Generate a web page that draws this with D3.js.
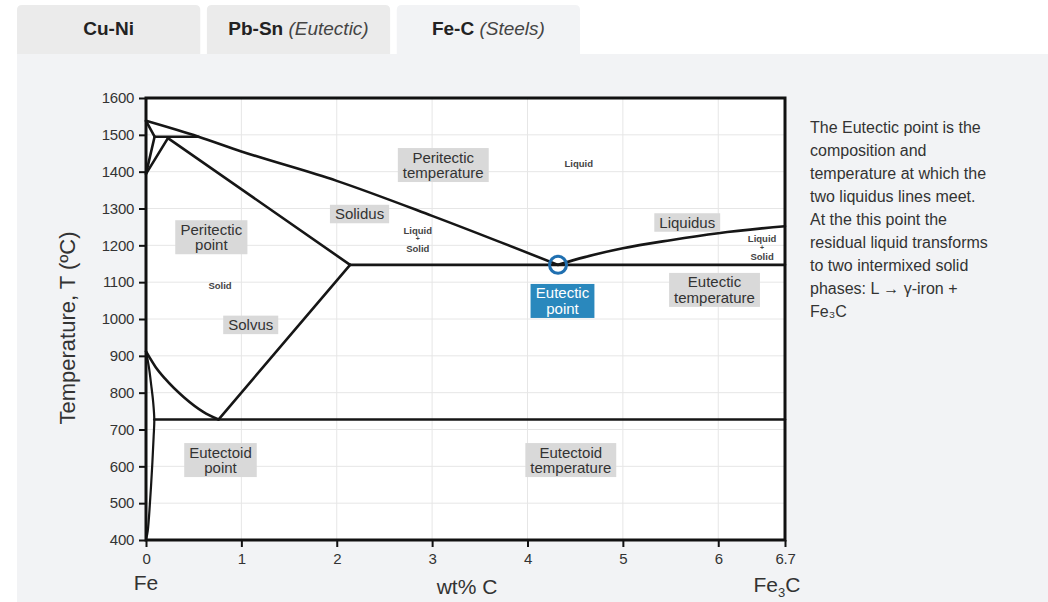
<!DOCTYPE html>
<html>
<head>
<meta charset="utf-8">
<script src="https://cdn.jsdelivr.net/npm/d3@7"></script>
<style>
  html, body { margin: 0; padding: 0; background: #ffffff; }
  svg { display: block; font-family: "Liberation Sans", Arial, sans-serif; }
</style>
</head>
<body>
<svg id="chart" width="1048" height="602"></svg>
<script>
// ---------- DATA ----------
const tabs = [
  { bold: "Cu-Ni", italic: "" },
  { bold: "Pb-Sn", italic: "(Eutectic)" },
  { bold: "Fe-C", italic: "(Steels)" }
];
const activeTab = 2;

const xTicks = [0, 1, 2, 3, 4, 5, 6, 6.7];
const yTicks = [400, 500, 600, 700, 800, 900, 1000, 1100, 1200, 1300, 1400, 1500, 1600];

// phase boundaries: [wt% C, temperature °C]
const liquidusLeft  = [[0, 1538], [0.55, 1495], [1, 1455], [2, 1375], [3, 1280], [4.32, 1147]];
const liquidusRight = [[4.32, 1147], [4.6, 1168], [5, 1192], [5.5, 1214], [6, 1233], [6.7, 1252]];
const deltaLiquid   = [[0, 1538], [0.09, 1495]];
const deltaSolvus   = [[0.09, 1495], [0, 1394]];
const gammaDelta    = [[0, 1394], [0.23, 1491]];
const peritectic    = [[0.09, 1495], [0.55, 1495]];
const solidus       = [[0.23, 1491], [2.14, 1147]];
const eutecticLine  = [[2.14, 1147], [6.7, 1147]];
const acmSolvus     = [[0.76, 727], [2.14, 1147]];
const a3Curve       = [[0, 912], [0.1, 870], [0.2, 838], [0.4, 787], [0.6, 748], [0.76, 727]];
const ferriteSolvus = [[0, 912], [0.03, 870], [0.055, 820], [0.075, 775], [0.087, 727],
                       [0.08, 680], [0.066, 606], [0.045, 515], [0.018, 424], [0, 400]];
const eutectoidLine = [[0.087, 727], [6.7, 727]];
const eutecticPoint = [4.32, 1147];

// boxed annotations [text lines, wt% C, T]
const boxLabels = [
  { lines: ["Peritectic", "temperature"], x: 3.117, t: 1418 },
  { lines: ["Solidus"], x: 2.239, t: 1285 },
  { lines: ["Peritectic", "point"], x: 0.685, t: 1222 },
  { lines: ["Solvus"], x: 1.098, t: 984 },
  { lines: ["Liquidus"], x: 5.675, t: 1262 },
  { lines: ["Eutectic", "temperature"], x: 5.961, t: 1079 },
  { lines: ["Eutectoid", "point"], x: 0.781, t: 617 },
  { lines: ["Eutectoid", "temperature"], x: 4.454, t: 617 }
];
const highlightLabel = { lines: ["Eutectic", "point"], x: 4.367, t: 1049 };

// small phase labels
const phaseLabels = [
  { lines: ["Liquid"], x: 4.537, t: 1423 },
  { lines: ["Solid"], x: 0.776, t: 1092 },
  { lines: ["Liquid", "+", "Solid"], x: 2.85, t: 1217 },
  { lines: ["Liquid", "+", "Solid"], x: 6.46, t: 1194 }
];

const infoLines = [
  "The Eutectic point is the",
  "composition and",
  "temperature at which the",
  "two liquidus lines meet.",
  "At the this point the",
  "residual liquid transforms",
  "to two intermixed solid",
  "phases: L \u2192 \u03b3-iron +",
  "Fe\u2083C"
];

// ---------- DRAW ----------
const svg = d3.select("#chart");
const panelColor = "#f2f3f5";
const tabColor = "#ebebeb";

// panel
svg.append("rect").attr("x", 17).attr("y", 54).attr("width", 1031).attr("height", 548)
  .attr("fill", panelColor);

// tabs
const tabX = d3.scaleBand().domain(d3.range(tabs.length)).range([17, 580]).paddingInner(0.035);
tabs.forEach((tb, i) => {
  const x0 = tabX(i), w = tabX.bandwidth(), y0 = 5, y1 = 54, r = 5;
  svg.append("path")
    .attr("d", `M${x0},${y1} L${x0},${y0 + r} Q${x0},${y0} ${x0 + r},${y0} L${x0 + w - r},${y0} Q${x0 + w},${y0} ${x0 + w},${y0 + r} L${x0 + w},${y1} Z`)
    .attr("fill", i === activeTab ? panelColor : tabColor);
  const t = svg.append("text").attr("x", x0 + w / 2).attr("y", 35)
    .attr("text-anchor", "middle").attr("font-size", 19).attr("fill", "#222");
  t.append("tspan").attr("font-weight", "bold").text(tb.bold);
  if (tb.italic) t.append("tspan").attr("font-style", "italic").attr("fill", "#444").text(" " + tb.italic);
});

// scales
const x = d3.scaleLinear().domain([0, 6.7]).range([146, 785]);
const y = d3.scaleLinear().domain([400, 1600]).range([540, 98]);

// plot background
svg.append("rect").attr("x", x(0)).attr("y", y(1600))
  .attr("width", x(6.7) - x(0)).attr("height", y(400) - y(1600)).attr("fill", "#fff");

// grid
svg.append("g").selectAll("line").data(yTicks.slice(1, -1)).join("line")
  .attr("x1", x(0)).attr("x2", x(6.7)).attr("y1", d => y(d)).attr("y2", d => y(d))
  .attr("stroke", "#e6e6e6").attr("stroke-width", 1);
svg.append("g").selectAll("line").data(xTicks.slice(1, -1)).join("line")
  .attr("y1", y(400)).attr("y2", y(1600)).attr("x1", d => x(d)).attr("x2", d => x(d))
  .attr("stroke", "#e6e6e6").attr("stroke-width", 1);

// axes
const yAxis = svg.append("g").attr("transform", `translate(${x(0)},0)`)
  .call(d3.axisLeft(y).tickValues(yTicks).tickSize(7).tickPadding(5).tickFormat(d3.format("d")));
const xAxis = svg.append("g").attr("transform", `translate(0,${y(400)})`)
  .call(d3.axisBottom(x).tickValues(xTicks).tickSize(7).tickPadding(6).tickFormat(d => d === 6.7 ? "6.7" : d3.format("d")(d)));
[yAxis, xAxis].forEach(a => {
  a.select(".domain").remove();
  a.selectAll(".tick line").attr("stroke", "#111").attr("stroke-width", 2);
  a.selectAll(".tick text").attr("font-size", 15).attr("fill", "#333").attr("letter-spacing", -0.3)
    .attr("font-family", "'Liberation Sans', Arial, sans-serif");
});

// phase lines
const line = d3.line().x(d => x(d[0])).y(d => y(d[1]));
const curved = d3.line().x(d => x(d[0])).y(d => y(d[1])).curve(d3.curveMonotoneX);
const curvedCR = d3.line().x(d => x(d[0])).y(d => y(d[1])).curve(d3.curveCatmullRom.alpha(0.5));
const lg = svg.append("g").attr("fill", "none").attr("stroke", "#161616")
  .attr("stroke-width", 2.6).attr("stroke-linejoin", "round").attr("stroke-linecap", "round");
[deltaLiquid, deltaSolvus, gammaDelta, peritectic, solidus, eutecticLine, acmSolvus, eutectoidLine]
  .forEach(p => lg.append("path").attr("d", line(p)));
[liquidusLeft, liquidusRight, a3Curve].forEach(p => lg.append("path").attr("d", curved(p)));
lg.append("path").attr("d", curvedCR(ferriteSolvus)).attr("stroke-width", 2.2);

// plot frame
svg.append("rect").attr("x", x(0)).attr("y", y(1600))
  .attr("width", x(6.7) - x(0)).attr("height", y(400) - y(1600))
  .attr("fill", "none").attr("stroke", "#111").attr("stroke-width", 3);

// boxed labels
const LH = 15.5, FS = 15;
function boxLabel(lbl, fill, textFill) {
  const g = svg.append("g");
  const cx = x(lbl.x), cy = y(lbl.t);
  const n = lbl.lines.length;
  const t = g.append("text").attr("text-anchor", "middle").attr("font-size", FS).attr("fill", textFill);
  lbl.lines.forEach((s, i) => {
    t.append("tspan").attr("x", cx).attr("y", cy + (i - (n - 1) / 2) * LH + FS * 0.35).text(s);
  });
  const bb = t.node().getBBox();
  const w = bb.width + 10, h = n * LH + 3;
  g.insert("rect", "text").attr("x", cx - w / 2).attr("y", cy - h / 2)
    .attr("width", w).attr("height", h).attr("fill", fill);
}
boxLabels.forEach(l => boxLabel(l, "#d9d9d9", "#333"));

// eutectic point marker
svg.append("circle").attr("cx", x(eutecticPoint[0])).attr("cy", y(eutecticPoint[1])).attr("r", 8.5)
  .attr("fill", "none").attr("stroke", "#1f6fb0").attr("stroke-width", 3);
boxLabel(highlightLabel, "#2a88bd", "#ffffff");

// small phase labels
phaseLabels.forEach(l => {
  const cx = x(l.x), cy = y(l.t);
  const t = svg.append("text").attr("text-anchor", "middle").attr("font-weight", "bold")
    .attr("fill", "#444");
  if (l.lines.length === 1) {
    t.append("tspan").attr("x", cx).attr("y", cy + 3.5).attr("font-size", 9.5).text(l.lines[0]);
  } else {
    t.append("tspan").attr("x", cx).attr("y", cy - 9 + 3.5).attr("font-size", 9.5).text(l.lines[0]);
    t.append("tspan").attr("x", cx).attr("y", cy + 2).attr("font-size", 7).text(l.lines[1]);
    t.append("tspan").attr("x", cx).attr("y", cy + 9 + 3.5).attr("font-size", 9.5).text(l.lines[2]);
  }
});

// axis titles
svg.append("text").attr("transform", `translate(75,${(y(400) + y(1600)) / 2 + 9}) rotate(-90)`)
  .attr("text-anchor", "middle").attr("font-size", 22).attr("fill", "#333")
  .text("Temperature, T  (\u00baC)");
svg.append("text").attr("x", 467).attr("y", 594).attr("text-anchor", "middle")
  .attr("font-size", 21).attr("fill", "#333").text("wt% C");
svg.append("text").attr("x", x(0)).attr("y", 590).attr("text-anchor", "middle")
  .attr("font-size", 21).attr("fill", "#333").text("Fe");
const fe3c = svg.append("text").attr("x", x(6.7) - 8).attr("y", 592).attr("text-anchor", "middle")
  .attr("font-size", 21).attr("fill", "#333");
fe3c.append("tspan").text("Fe");
fe3c.append("tspan").attr("font-size", 13).attr("dy", 5).text("3");
fe3c.append("tspan").attr("dy", -5).text("C");

// info text
const info = svg.append("text").attr("font-size", 16).attr("fill", "#333");
infoLines.forEach((s, i) => {
  info.append("tspan").attr("x", 810).attr("y", 133 + i * 23).text(s);
});
</script>
</body>
</html>
